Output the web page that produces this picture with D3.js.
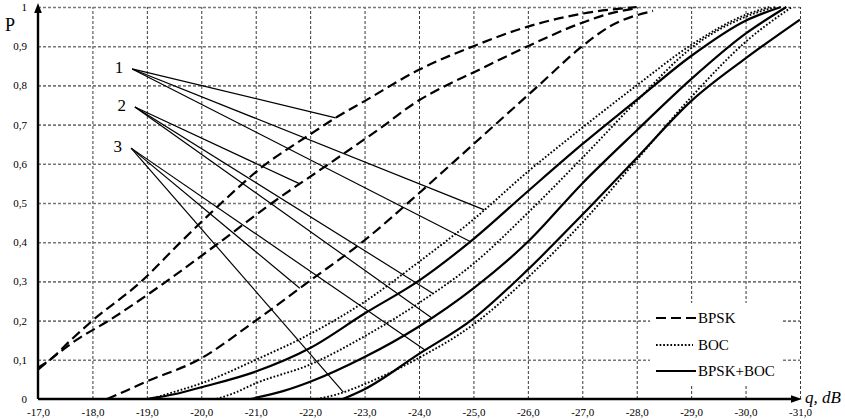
<!DOCTYPE html>
<html>
<head>
<meta charset="utf-8">
<script src="https://cdn.jsdelivr.net/npm/d3@7"></script>
<style>
  body { margin: 0; background: #fff; }
  svg { display: block; }
  svg text { font-family: "Liberation Serif", "Times New Roman", serif; }
</style>
</head>
<body>
<svg id="chart" width="845" height="420"></svg>
<script>
// ---- data: [q (dB), P] ----
const qTicks = [-17, -18, -19, -20, -21, -22, -23, -24, -25, -26, -27, -28, -29, -30, -31];
const pTicks = [0, 0.1, 0.2, 0.3, 0.4, 0.5, 0.6, 0.7, 0.8, 0.9, 1];

// BPSK (dashed)
const bpsk1 = [[-17, 0.08], [-17.22, 0.1], [-17.6, 0.15], [-18, 0.2], [-18.9, 0.3], [-19.62, 0.4], [-20.37, 0.5],
  [-21.1, 0.59], [-22, 0.675], [-22.5, 0.72], [-23, 0.76], [-24, 0.84], [-25, 0.9], [-26, 0.95], [-27, 0.983], [-28, 1]];
const bpsk2 = [[-17, 0.075], [-17.7, 0.15], [-18.3, 0.2], [-19.36, 0.3], [-20.34, 0.4], [-21.3, 0.5], [-22.4, 0.605],
  [-23.28, 0.69], [-24, 0.762], [-24.5, 0.8], [-25, 0.833], [-26, 0.9], [-27, 0.96], [-27.5, 0.983], [-28, 0.997]];
const bpsk3 = [[-18.27, 0], [-18.6, 0.02], [-19, 0.045], [-19.95, 0.1], [-21, 0.2], [-22, 0.302], [-23, 0.405],
  [-24, 0.525], [-24.6, 0.6], [-25.4, 0.7], [-26.2, 0.8], [-27, 0.9], [-27.5, 0.95], [-28.3, 0.99]];

// BOC (dotted)
const boc1 = [[-19.05, 0], [-19.5, 0.018], [-20, 0.04], [-21, 0.1], [-22, 0.166], [-23, 0.248], [-24, 0.35],
  [-25, 0.458], [-26, 0.58], [-27, 0.692], [-28, 0.8], [-29, 0.903], [-30, 0.98], [-30.45, 1]];
const boc2 = [[-20.28, 0], [-20.6, 0.015], [-21, 0.04], [-22, 0.088], [-23, 0.16], [-24, 0.245], [-25, 0.345],
  [-26, 0.475], [-27, 0.615], [-28, 0.76], [-29, 0.895], [-30, 0.975], [-30.55, 1]];
const boc3 = [[-22.12, 0], [-22.5, 0.012], [-23, 0.038], [-24, 0.105], [-25, 0.19], [-26, 0.31], [-27, 0.45],
  [-28, 0.61], [-29, 0.77], [-30, 0.911], [-30.85, 1]];

// BPSK+BOC (solid)
const mix1 = [[-19, 0], [-19.5, 0.012], [-20, 0.03], [-21, 0.07], [-22, 0.13], [-23, 0.218], [-24, 0.302],
  [-25, 0.408], [-26, 0.53], [-27, 0.65], [-28, 0.763], [-29, 0.875], [-30, 0.965], [-30.65, 1]];
const mix2 = [[-20.9, 0], [-21.5, 0.02], [-22, 0.044], [-23, 0.107], [-24, 0.185], [-25, 0.282], [-26, 0.401],
  [-27, 0.55], [-28, 0.685], [-29, 0.816], [-30, 0.932], [-30.75, 1]];
const mix3 = [[-22.6, 0], [-23, 0.025], [-24, 0.115], [-25, 0.205], [-26, 0.33], [-27, 0.47], [-28, 0.615],
  [-29, 0.76], [-30, 0.869], [-31, 0.968]];

const legendNames = ["BPSK", "BOC", "BPSK+BOC"];

// curve set labels and where their leader lines touch the curves (q on each curve)
const setLabels = ["1", "2", "3"];
const labelAnchors = [[-18.73, 0.842], [-18.78, 0.745], [-18.71, 0.64]];
const leaderTargets = [
  [[bpsk1, -22.47], [boc1, -25.2], [mix1, -24.94]],
  [[bpsk2, -21.81], [boc2, -24.25], [mix2, -24.23]],
  [[bpsk3, -21.81], [boc3, -22.61], [mix3, -24.11]]
];

// ---- chart ----
const svg = d3.select("#chart");
const x = d3.scaleLinear().domain([-17, -31]).range([38, 800]);
const y = d3.scaleLinear().domain([0, 1]).range([399, 7]);
const serif = "Liberation Serif, Times New Roman, serif";

const fmt = v => v === 0 ? "0" : v === 1 ? "1" : d3.format(".1f")(v).replace(".", ",");

// vertical grid
svg.append("g")
  .attr("transform", `translate(0,${y(0)})`)
  .call(d3.axisBottom(x).tickValues(qTicks.slice(1)).tickSize(-(y(0) - y(1))).tickFormat(""))
  .call(g => g.select(".domain").remove())
  .selectAll("line")
  .attr("stroke", "#222").attr("stroke-width", 0.9).attr("stroke-dasharray", "3,2");

// horizontal grid
svg.append("g")
  .attr("transform", `translate(${x(-17)},0)`)
  .call(d3.axisLeft(y).tickValues(pTicks.slice(1)).tickSize(-(x(-31) - x(-17))).tickFormat(""))
  .call(g => g.select(".domain").remove())
  .selectAll("line")
  .attr("stroke", "#777").attr("stroke-width", 1.6).attr("stroke-dasharray", "3,2");

// legend background
svg.append("rect")
  .attr("x", 650).attr("y", 303).attr("width", 132).attr("height", 83)
  .attr("fill", "#fff");

// curves
const line = d3.line().x(d => x(d[0])).y(d => y(d[1])).curve(d3.curveMonotoneX);
const styles = [
  { dash: "10,5", width: 2.2 },
  { dash: "1.7,1.9", width: 1.9 },
  { dash: null, width: 2.2 }
];
const groups = [[bpsk1, bpsk2, bpsk3], [boc1, boc2, boc3], [mix1, mix2, mix3]];
groups.forEach((set, i) => {
  svg.append("g")
    .selectAll("path")
    .data(set)
    .join("path")
    .attr("d", line)
    .attr("fill", "none")
    .attr("stroke", "#000")
    .attr("stroke-width", styles[i].width)
    .attr("stroke-dasharray", styles[i].dash);
});

// leader lines and labels
const pAt = (series, q) => d3.scaleLinear().domain(series.map(d => d[0])).range(series.map(d => d[1]))(q);
setLabels.forEach((lab, i) => {
  const ax = x(labelAnchors[i][0]), ay = y(labelAnchors[i][1]);
  leaderTargets[i].forEach(([series, q]) => {
    svg.append("line")
      .attr("x1", ax).attr("y1", ay)
      .attr("x2", x(q)).attr("y2", y(pAt(series, q)))
      .attr("stroke", "#000").attr("stroke-width", 1.2);
  });
  svg.append("text")
    .attr("x", ax - 9).attr("y", ay + 4)
    .attr("text-anchor", "end")
    .attr("font-family", serif)
    .attr("font-size", 17)
    .text(lab);
});

// axes lines with arrows
svg.append("line")
  .attr("x1", x(-17)).attr("y1", y(0)).attr("x2", x(-17)).attr("y2", 10)
  .attr("stroke", "#000").attr("stroke-width", 2.4);
svg.append("path")
  .attr("d", `M${x(-17)},3 L${x(-17) - 3.8},13 L${x(-17) + 3.8},13 Z`)
  .attr("fill", "#000");
svg.append("line")
  .attr("x1", x(-17)).attr("y1", y(0)).attr("x2", 794).attr("y2", y(0))
  .attr("stroke", "#000").attr("stroke-width", 2.4);
svg.append("path")
  .attr("d", `M802,${y(0)} L791,${y(0) - 3.8} L791,${y(0) + 3.8} Z`)
  .attr("fill", "#000");

// tick labels
svg.append("g")
  .attr("transform", `translate(0,${y(0)})`)
  .call(d3.axisBottom(x).tickValues(qTicks).tickSize(0).tickPadding(9)
    .tickFormat(d => d3.format(".1f")(d).replace(".", ",").replace("−", "-")))
  .call(g => g.select(".domain").remove())
  .attr("font-family", serif)
  .selectAll("text")
  .attr("font-family", serif).attr("font-size", 11).attr("fill", "#000");

svg.append("g")
  .attr("transform", `translate(${x(-17)},0)`)
  .call(d3.axisLeft(y).tickValues(pTicks).tickSize(0).tickPadding(11).tickFormat(fmt))
  .call(g => g.select(".domain").remove())
  .attr("font-family", serif)
  .selectAll("text")
  .attr("font-family", serif).attr("font-size", 11).attr("fill", "#000");

// axis titles
svg.append("text")
  .attr("x", 5).attr("y", 31)
  .attr("font-family", serif)
  .attr("font-size", 18)
  .text("P");
svg.append("text")
  .attr("x", 805).attr("y", 403)
  .attr("font-family", serif)
  .attr("font-size", 17).attr("font-style", "italic")
  .text("q, dB");

// legend
const legendY = [318, 345, 371];
const legendLen = [41, 37, 40];
legendNames.forEach((name, i) => {
  svg.append("line")
    .attr("x1", 656).attr("x2", 656 + legendLen[i])
    .attr("y1", legendY[i]).attr("y2", legendY[i])
    .attr("stroke", "#000")
    .attr("stroke-width", styles[i].width)
    .attr("stroke-dasharray", styles[i].dash);
  svg.append("text")
    .attr("x", 698).attr("y", legendY[i] + 5)
    .attr("font-family", serif)
    .attr("font-size", 15)
    .text(name);
});
</script>
</body>
</html>
